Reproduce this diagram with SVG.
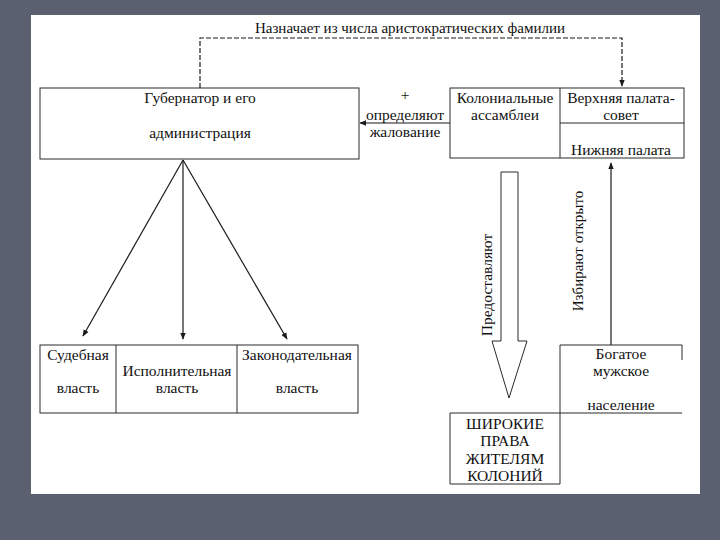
<svg xmlns="http://www.w3.org/2000/svg" width="720" height="540" viewBox="0 0 720 540">
<defs>
<style>
text{font-family:"Liberation Serif","Times New Roman","DejaVu Serif",serif;font-size:15.5px;fill:#111111;text-anchor:middle}
.b{fill:none;stroke:#2a2a2a;stroke-width:1}
.c{fill:none;stroke:#1a1a1a;stroke-width:1.2}
</style>
<marker id="ah" viewBox="0 0 10 10" refX="9" refY="5" markerWidth="7" markerHeight="7" orient="auto-start-reverse" markerUnits="userSpaceOnUse">
<path d="M0,1 L10,5 L0,9 z" fill="#1a1a1a"/>
</marker>
</defs>
<rect width="720" height="540" fill="#5a606f"/>
<rect x="31" y="15" width="669" height="479" fill="#ffffff"/>

<g id="governor">
<rect class="b" x="40" y="88" width="319" height="71"/>
<text x="200" y="103">Губернатор и его</text>
<text x="200" y="138">администрация</text>
</g>

<g id="assemblies">
<rect class="b" x="450" y="88" width="234" height="70"/>
<line class="b" x1="560" y1="88" x2="560" y2="158"/>
<line class="b" x1="560" y1="123" x2="684" y2="123"/>
<text x="505" y="103">Колониальные</text>
<text x="505" y="120">ассамблеи</text>
<text x="621" y="103">Верхняя палата-</text>
<text x="621" y="120">совет</text>
<text x="621" y="155">Нижняя палата</text>
</g>

<g id="branches">
<rect class="b" x="40" y="345" width="318" height="68"/>
<line class="b" x1="116" y1="345" x2="116" y2="413"/>
<line class="b" x1="237" y1="345" x2="237" y2="413"/>
<text x="78" y="360">Судебная</text>
<text x="78" y="393">власть</text>
<text x="177" y="376">Исполнительная</text>
<text x="177" y="393">власть</text>
<text x="297" y="360">Законодательная</text>
<text x="297" y="393">власть</text>
</g>

<g id="population">
<path class="b" d="M560,413 V345 H682 V360"/>
<line class="b" x1="450" y1="413" x2="682" y2="413"/>
<text x="621" y="359">Богатое</text>
<text x="621" y="376">мужское</text>
<text x="621" y="410">население</text>
</g>

<g id="rights">
<path class="b" d="M450,413 V484 H560 V413"/>
<text x="505" y="429">ШИРОКИЕ</text>
<text x="505" y="446">ПРАВА</text>
<text x="505" y="464">ЖИТЕЛЯМ</text>
<text x="505" y="481">КОЛОНИЙ</text>
</g>

<g id="connectors">
<text x="410" y="33" style="font-size:15px">Назначает из числа аристократических фамилии</text>
<path class="c" d="M200,88 V38 H622 V86" stroke-dasharray="5 2" marker-end="url(#ah)"/>
<text x="405" y="100">+</text>
<text x="405" y="120">определяют</text>
<text x="405" y="137">жалование</text>
<line class="c" x1="450" y1="123" x2="360" y2="123" marker-end="url(#ah)"/>
<line class="c" x1="183" y1="160" x2="83" y2="336" marker-end="url(#ah)"/>
<line class="c" x1="183" y1="160" x2="183" y2="339" marker-end="url(#ah)"/>
<line class="c" x1="183" y1="160" x2="287" y2="339" marker-end="url(#ah)"/>
<path class="b" d="M501,172 H518 V341 H527 L509,398 L492,341 H501 Z" fill="#ffffff"/>
<text transform="translate(492,285) rotate(-90)">Предоставляют</text>
<line class="c" x1="611" y1="345" x2="611" y2="163" marker-end="url(#ah)"/>
<text transform="translate(583,251) rotate(-90)" style="font-size:15px">Избирают открыто</text>
</g>
</svg>
